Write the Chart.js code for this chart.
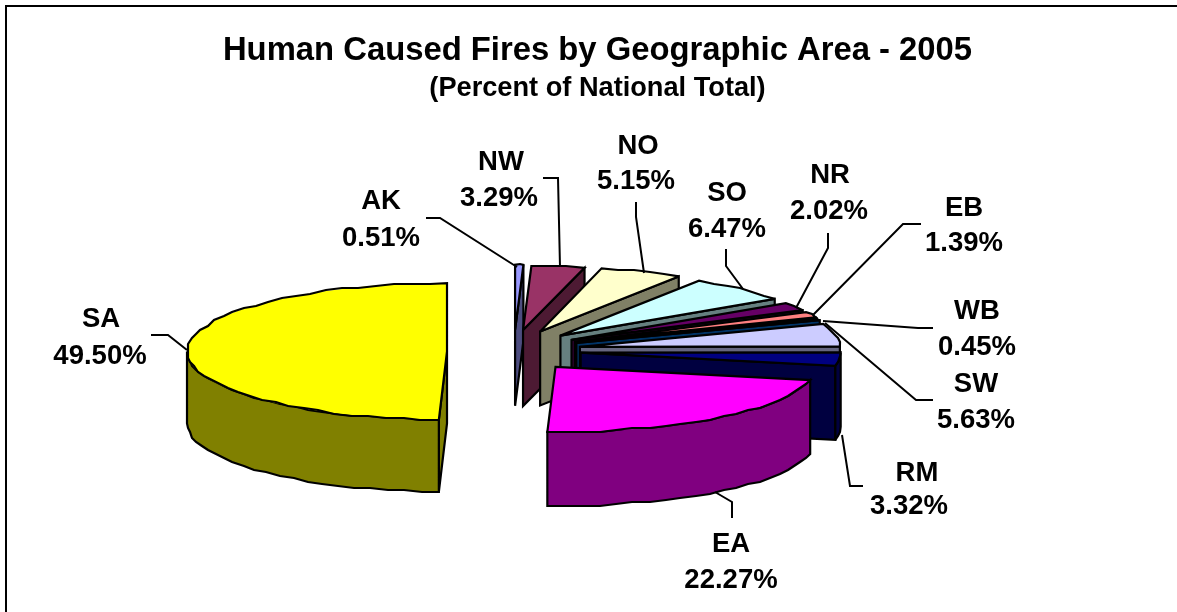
<!DOCTYPE html>
<html><head><meta charset="utf-8">
<style>html,body{margin:0;padding:0;background:#fff}canvas{display:block}</style>
<script src="https://cdn.jsdelivr.net/npm/chart.js@4/dist/chart.umd.min.js"></script>
</head><body>
<div style="width:1177px;height:612px;position:relative"><canvas id="c"></canvas></div>
<script>
const categories = ['AK','NW','NO','SO','NR','EB','WB','SW','RM','EA','SA'];
const percents = [0.51,3.29,5.15,6.47,2.02,1.39,0.45,5.63,3.32,22.27,49.50];
const topColors = ['#9999FF','#993366','#FFFFCC','#CCFFFF','#660066','#FF8080','#0066CC','#CCCCFF','#000080','#FF00FF','#FFFF00'];
const wallColors = ['#4D4D80','#4D1A33','#808066','#668080','#330033','#804040','#003366','#666680','#000040','#800080','#808000'];
const titleText = 'Human Caused Fires by Geographic Area - 2005';
const subtitleText = '(Percent of National Total)';

// label layout: [name x, name y, value x, value y]
const labelPos = {
 AK:[381,201,381,238], NW:[501,162,499,198], NO:[638,146,636,181], SO:[727,193,727,229],
 NR:[830,175,829,211], EB:[964,208,964,243], WB:[977,311,977,347], SW:[976,384,976,420],
 RM:[917,473,909,506], EA:[731,544,731,580], SA:[101,319,100,356]
};
const leaders = {
 AK:[[426,218],[440,218],[517,267]], NW:[[543,178],[558,178],[560,267]],
 NO:[[636,202],[636,217],[644,273]], SO:[[726,249],[726,266],[743,289]],
 NR:[[828,233],[828,248],[796,308]], EB:[[921,224],[903,224],[813,315]],
 WB:[[933,328],[918,328],[823,321]], SW:[[933,400],[916,400],[825,323]],
 RM:[[863,486],[850,486],[842,435]], EA:[[732,518],[732,502],[715,492]],
 SA:[[151,335],[168,335],[187,350]]
};
const CX=514, CY=350.6, RX=260, EX=67, EY=20.8, LW=2.2;
const sliceRY =   [65,64,65,65,65,65,65,65,65,65,68.4];
const sliceDepth =[76,76,74,74,74,74,74,74,74,74,72];
const sliceLift = [0,0,0,0,0,0,0,0,0,0,1.2];

// coarse chords along an arc, like the polygonal outline of the original
function arcPoints(ax,ay,rx,ry,a0,a1){
  const step=Math.PI/180*4;
  const n=Math.max(2,Math.ceil((a1-a0)/step));
  const out=[];
  for(let j=0;j<=n;j++){
    const a=a0+(a1-a0)*j/n;
    let x=ax+Math.cos(a)*rx, y=ay+Math.sin(a)*ry;
    if(j>0&&j<n){x=Math.round(x/2)*2;y=Math.round(y/2)*2;}
    out.push([x,y]);
  }
  return out;
}

const pie3d = {
  id:'pie3d',
  beforeDatasetsDraw(chart){
    const ctx = chart.ctx, arcs = chart.getDatasetMeta(0).data;
    arcs.forEach((arc,i)=>{
      const p = arc.getProps(['x','y','startAngle','endAngle','outerRadius'],true);
      const mid=(p.startAngle+p.endAngle)/2, RY=sliceRY[i], DEPTH=sliceDepth[i];
      const ax=CX+Math.cos(mid)*EX, ay=CY+Math.sin(mid)*EY+sliceLift[i];
      const r=p.outerRadius, k=RY/r;
      const pt=a=>[ax+Math.cos(a)*r, ay+Math.sin(a)*RY];
      const s=pt(p.startAngle), e=pt(p.endAngle);
      ctx.save();
      ctx.lineWidth=LW; ctx.lineJoin='miter'; ctx.miterLimit=3; ctx.strokeStyle='#000';
      ctx.fillStyle=wallColors[i];
      const path=pts=>{ctx.beginPath();pts.forEach((q,j)=>j?ctx.lineTo(q[0],q[1]):ctx.moveTo(q[0],q[1]));ctx.closePath();};
      const poly=pts=>{path(pts);ctx.fill();ctx.stroke();};
      // radial walls facing the viewer (angle 0 = east, canvas y down)
      if(p.startAngle>Math.PI/2 && Math.cos(p.startAngle)<0) poly([[ax,ay],s,[s[0],s[1]+DEPTH],[ax,ay+DEPTH]]);
      if(Math.cos(p.endAngle)>1e-6) poly([[ax,ay],e,[e[0],e[1]+DEPTH],[ax,ay+DEPTH]]);
      // outer wall: only the part on the lower half of the ellipse
      const a0=Math.max(p.startAngle,0), a1=Math.min(p.endAngle,Math.PI);
      if(a1>a0){
        const up=arcPoints(ax,ay,r,RY,a0,a1);
        const low=arcPoints(ax,ay+DEPTH,r,RY,a0,a1).reverse();
        poly(up.concat(low));
      }
      // top face: the library's own arc element, flattened
      ctx.save();
      ctx.translate(ax,ay);ctx.scale(1,k);ctx.translate(-p.x,-p.y);
      arc.draw(ctx);
      ctx.restore();
      path([[ax,ay]].concat(arcPoints(ax,ay,r,RY,p.startAngle,p.endAngle)));
      ctx.stroke();
      ctx.restore();
    });
    return false;
  },
  afterDraw(chart){
    const ctx=chart.ctx;
    ctx.save();
    // frame
    ctx.strokeStyle='#000';ctx.lineWidth=2;
    ctx.beginPath();ctx.moveTo(6,612);ctx.lineTo(6,6);ctx.lineTo(1177,6);ctx.stroke();
    // leaders
    ctx.lineWidth=2;
    categories.forEach(c=>{const l=leaders[c];ctx.beginPath();l.forEach((q,j)=>j?ctx.lineTo(q[0],q[1]):ctx.moveTo(q[0],q[1]));ctx.stroke();});
    // labels
    ctx.fillStyle='#000';ctx.font='bold 27.5px "Liberation Sans"';ctx.textAlign='center';ctx.textBaseline='middle';
    categories.forEach((c,i)=>{const q=labelPos[c];ctx.fillText(c,q[0],q[1]);ctx.fillText(percents[i].toFixed(2)+'%',q[2],q[3]);});
    ctx.restore();
  }
};

new Chart(document.getElementById('c'),{
  type:'pie',
  data:{labels:categories,datasets:[{data:percents,backgroundColor:topColors,borderWidth:0}]},
  options:{
    responsive:true,maintainAspectRatio:false,animation:false,
    radius:RX,rotation:0,
    layout:{padding:{left:18}},
    plugins:{
      legend:{display:false},tooltip:{enabled:false},
      title:{display:true,text:titleText,color:'#000',font:{family:'"Liberation Sans"',size:32.8,weight:'bold'},padding:{top:31,bottom:0}},
      subtitle:{display:true,text:subtitleText,color:'#000',font:{family:'"Liberation Sans"',size:27.2,weight:'bold'},padding:{top:2,bottom:0}}
    }
  },
  plugins:[pie3d]
});
</script>
</body></html>
